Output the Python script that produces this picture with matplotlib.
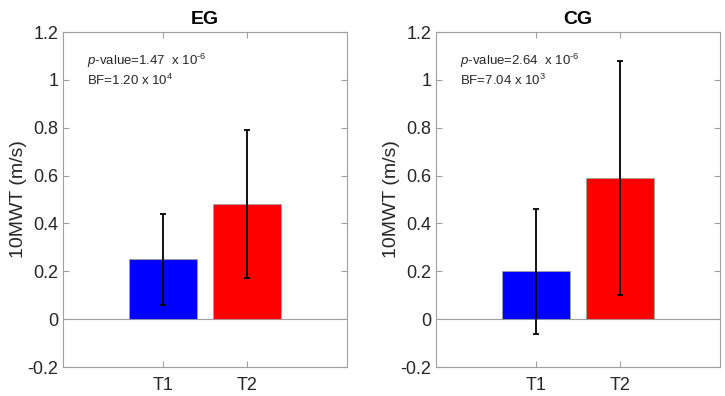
import matplotlib.pyplot as plt

plt.rcParams['font.family'] = ['Liberation Sans', 'DejaVu Sans']
plt.rcParams['mathtext.fontset'] = 'custom'
plt.rcParams['mathtext.rm'] = 'Liberation Sans'
plt.rcParams['mathtext.it'] = 'Liberation Sans:italic'

# data
groups = ['EG', 'CG']
conditions = ['T1', 'T2']
means = {'EG': [0.25, 0.48], 'CG': [0.20, 0.59]}
errs = {'EG': [0.19, 0.31], 'CG': [0.26, 0.49]}
pvals = {'EG': ('1.47', '-6'), 'CG': ('2.64', '-6')}
bfs = {'EG': ('1.20', '4'), 'CG': ('7.04', '3')}
bar_colors = ['#0000ff', '#ff0000']
yticks = [-0.2, 0, 0.2, 0.4, 0.6, 0.8, 1, 1.2]
ytick_labels = ['-0.2', '0', '0.2', '0.4', '0.6', '0.8', '1', '1.2']

fig = plt.figure(figsize=(7.25, 3.96), dpi=100)
lefts = [63 / 725, 436 / 725]
w = 284 / 725
bottom = 1 - 367 / 396
h = (367 - 32) / 396

for g, left in zip(groups, lefts):
    ax = fig.add_axes([left, bottom, w, h])
    x = [1, 2]
    ax.bar(x, means[g], width=0.8, color=bar_colors, edgecolor='#a0a0a0', linewidth=0.6, zorder=2)
    ax.errorbar(x, means[g], yerr=errs[g], fmt='none', ecolor='black', elinewidth=1.3,
                capsize=2, capthick=1.3, zorder=3)
    ax.axhline(0, color='#a0a0a0', linewidth=0.8, zorder=1)
    ax.set_xlim(-0.19, 3.19)
    ax.set_ylim(-0.2, 1.2)
    ax.set_xticks(x)
    ax.set_xticklabels(conditions)
    ax.set_yticks(yticks)
    ax.set_yticklabels(ytick_labels)
    ax.tick_params(direction='in', top=True, right=True, labelsize=13, colors='#a0a0a0',
                   labelcolor='#262626', length=4, width=0.8)
    ax.tick_params(axis='x', pad=7)
    for s in ax.spines.values():
        s.set_color('#a0a0a0')
        s.set_linewidth(0.8)
    ax.set_ylabel('10MWT (m/s)', fontsize=14, color='#262626', labelpad=0)
    ax.set_title(g, fontsize=14, fontweight='bold', pad=6)
    p, pe = pvals[g]
    b, be = bfs[g]
    # hyphen instead of minus sign in the exponent, as in the original
    pe_txt = pe.replace('-', r'\text{-}')
    ax.text(0.085, 0.915, r'$p$-value=%s  x 10$^{%s}$' % (p, pe_txt), transform=ax.transAxes,
            fontsize=9.5, color='#262626', va='center')
    ax.text(0.085, 0.855, r'BF=%s x 10$^{%s}$' % (b, be), transform=ax.transAxes,
            fontsize=9.5, color='#262626', va='center')

fig.savefig('out.png', dpi=100)
